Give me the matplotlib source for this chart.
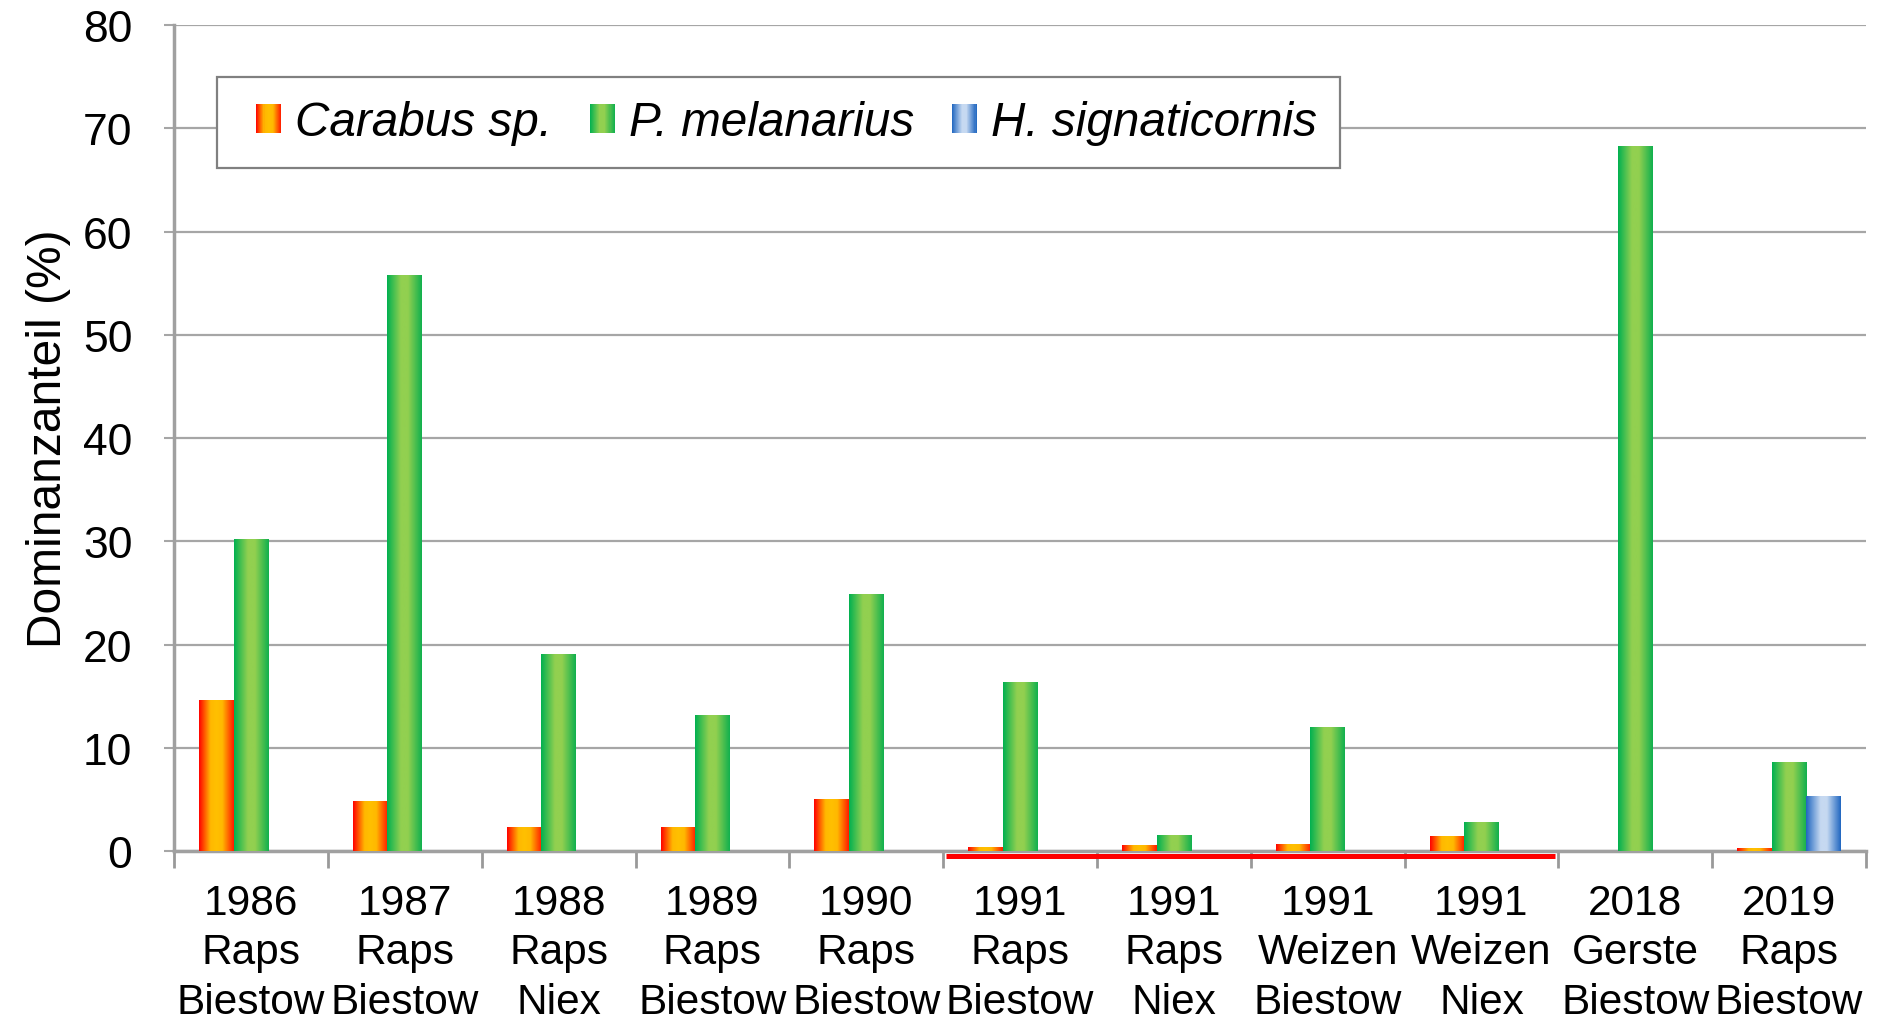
import matplotlib
matplotlib.use('Agg')
import matplotlib.pyplot as plt
import numpy as np
from matplotlib.colors import LinearSegmentedColormap
from matplotlib.patches import Rectangle
from matplotlib.legend_handler import HandlerBase
import matplotlib.transforms as mtransforms

plt.rcParams['font.family'] = ['Liberation Sans', 'DejaVu Sans']

# ---------------- data ----------------
years = ['1986', '1987', '1988', '1989', '1990', '1991', '1991', '1991', '1991', '2018', '2019']
crops = ['Raps', 'Raps', 'Raps', 'Raps', 'Raps', 'Raps', 'Raps', 'Weizen', 'Weizen', 'Gerste', 'Raps']
sites = ['Biestow', 'Biestow', 'Niex', 'Biestow', 'Biestow', 'Biestow', 'Niex', 'Biestow', 'Niex',
         'Biestow', 'Biestow']
series_names = ['Carabus sp.', 'P. melanarius', 'H. signaticornis']
carabus = [14.6, 4.8, 2.3, 2.3, 5.0, 0.3, 0.5, 0.6, 1.4, 0.0, 0.2]
melanarius = [30.2, 55.7, 19.0, 13.1, 24.8, 16.3, 1.5, 12.0, 2.8, 68.2, 8.6]
signaticornis = [0.0, 0.0, 0.0, 0.0, 0.0, 0.0, 0.0, 0.0, 0.0, 0.0, 5.3]
highlight_year = '1991'
y_ticks = [0, 10, 20, 30, 40, 50, 60, 70, 80]
y_label = 'Dominanzanteil (%)'

# ---------------- styles ----------------
cmaps = [
    LinearSegmentedColormap.from_list('carab', [(0, '#FF0000'), (0.33, '#FFB800'), (0.5, '#FFC000'),
                                                 (0.67, '#FFB800'), (1, '#FF1A00')]),
    LinearSegmentedColormap.from_list('mel', [(0, '#00B050'), (0.4, '#92D050'), (0.6, '#92D050'),
                                               (1, '#10B04E')]),
    LinearSegmentedColormap.from_list('sig', [(0, '#1F66C0'), (0.42, '#C6D9F1'), (0.6, '#C6D9F1'),
                                               (1, '#1F66C0')]),
]
grid_col = '#A6A6A6'

fig = plt.figure(figsize=(18.78, 10.2), dpi=100)
ax = fig.add_axes([0.0927, 0.1647, 0.9009, 0.8098])

x = np.arange(len(years))
w = 0.225
offsets = [-w, 0.0, w]
grad = np.linspace(0, 1, 256).reshape(1, -1)

for vals, off, cmap in zip([carabus, melanarius, signaticornis], offsets, cmaps):
    bars = ax.bar(x + off, vals, width=w, color='none', edgecolor='none', zorder=3)
    for rect in bars:
        h = rect.get_height()
        if h <= 0:
            continue
        x0 = rect.get_x()
        x1 = x0 + rect.get_width()
        ax.imshow(grad, cmap=cmap, extent=(x0, x1, 0, h), aspect='auto', zorder=3,
                  interpolation='bilinear')

ax.set_xlim(-0.5, len(years) - 0.5)
ax.set_ylim(0, 80)

# grid & spines
ax.set_axisbelow(True)
ax.set_yticks(y_ticks)
ax.yaxis.grid(True, color=grid_col, lw=1.6)
for s in ['top', 'right']:
    ax.spines[s].set_visible(False)
for s in ['left', 'bottom']:
    ax.spines[s].set_color('#A0A0A0')
    ax.spines[s].set_linewidth(2.5)

ax.tick_params(axis='y', length=7, width=1.5, color=grid_col, pad=23, labelsize=32)

ax.set_xticks(x)
ax.set_xticklabels([f'{yy}\n{c}\n{s}' for yy, c, s in zip(years, crops, sites)], linespacing=1.3)
ax.tick_params(axis='x', which='major', length=0, pad=23, labelsize=30.5)
ax.set_xticks(np.arange(-0.5, len(years), 1.0), minor=True)
ax.tick_params(axis='x', which='minor', length=12, width=2, color='#999999')

ax.set_ylabel(y_label, fontsize=34.5)
ax.yaxis.set_label_coords(-0.061, 0.5)

# red marker line under the highlighted year groups
idx = [i for i, yy in enumerate(years) if yy == highlight_year]
trans = mtransforms.blended_transform_factory(ax.transData, ax.transAxes)
ax.plot([min(idx) - 0.48, max(idx) + 0.48], [-0.0055, -0.0055], transform=trans, color='#FF0000',
        lw=3.6, clip_on=False, solid_capstyle='butt', zorder=5)


# legend with gradient patches
class GradHandler(HandlerBase):
    def __init__(self, cmap, patch_frac):
        super().__init__()
        self.cmap = cmap
        self.patch_frac = patch_frac

    def create_artists(self, legend, orig_handle, xdescent, ydescent, width, height, fontsize, trans):
        n = 24
        pw = width * self.patch_frac
        start = -xdescent + width - pw
        arts = []
        for i in range(n):
            r = Rectangle((start + pw * i / n, -ydescent), pw / n * 1.1, height,
                          facecolor=self.cmap((i + 0.5) / n), edgecolor='none', transform=trans)
            arts.append(r)
        return arts


proxies = [Rectangle((0, 0), 1, 1) for _ in series_names]
hmap = {p: GradHandler(c, 0.6) for p, c in zip(proxies, cmaps)}
leg = ax.legend(proxies, series_names, handler_map=hmap, loc='upper left',
                bbox_to_anchor=(0.0254, 0.937), ncol=3, frameon=True, fancybox=False,
                edgecolor='#808080', framealpha=1,
                prop=dict(family='Liberation Sans', style='italic', size=34.3),
                handlelength=0.86, handleheight=0.56, handletextpad=0.3, columnspacing=0.45,
                borderpad=0.48, borderaxespad=0)
leg.get_frame().set_linewidth(1.6)

fig.savefig('out.png', dpi=100)
